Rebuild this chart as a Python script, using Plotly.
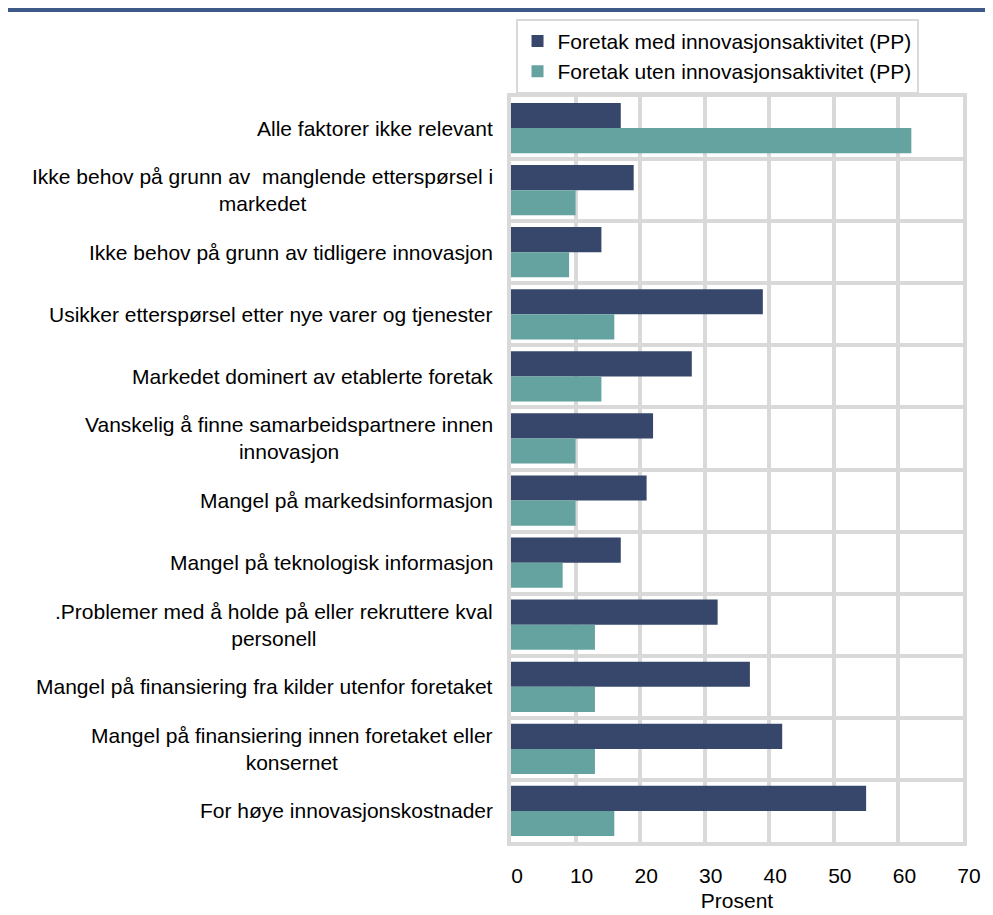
import plotly.graph_objects as go

# Data
categories = [
    "Alle faktorer ikke relevant",
    "Ikke behov på grunn av  manglende etterspørsel i<br>markedet",
    "Ikke behov på grunn av tidligere innovasjon",
    "Usikker etterspørsel etter nye varer og tjenester",
    "Markedet dominert av etablerte foretak",
    "Vanskelig å finne samarbeidspartnere innen<br>innovasjon",
    "Mangel på markedsinformasjon",
    "Mangel på teknologisk informasjon",
    ".Problemer med å holde på eller rekruttere kval<br>personell",
    "Mangel på finansiering fra kilder utenfor foretaket",
    "Mangel på finansiering innen foretaket eller<br>konsernet",
    "For høye innovasjonskostnader",
]
med_innovasjon = [17, 19, 14, 39, 28, 22, 21, 17, 32, 37, 42, 55]
uten_innovasjon = [62, 10, 9, 16, 14, 10, 10, 8, 13, 13, 13, 16]
x_ticks = [0, 10, 20, 30, 40, 50, 60, 70]

font_family = "Liberation Sans, Arial, sans-serif"
grid_color = "#d9d9d9"

fig = go.Figure()
fig.add_trace(go.Bar(
    y=categories, x=med_innovasjon, orientation="h",
    name="Foretak med innovasjonsaktivitet (PP)",
    marker=dict(color="#36476b", line=dict(width=0)),
))
fig.add_trace(go.Bar(
    y=categories, x=uten_innovasjon, orientation="h",
    name="Foretak uten innovasjonsaktivitet (PP)",
    marker=dict(color="#65a3a1", line=dict(width=0)),
))

# Category labels as annotations so multi-line labels are centred like in Excel
for i, label in enumerate(categories):
    fig.add_annotation(
        x=0, xref="paper", y=i, yref="y",
        text=label, showarrow=False,
        xanchor="right", yanchor="middle", align="center",
        xshift=-16,
        font=dict(family=font_family, size=21, color="#000000"),
    )

# Blue rule under the (cropped) heading
fig.add_shape(
    type="line", xref="paper", yref="paper",
    x0=-1.12, x1=1.07, y0=1.1168, y1=1.1168,
    line=dict(color="#3f5a88", width=4),
)

fig.update_layout(
    width=985, height=907,  # page adds an 8px body margin
    margin=dict(l=503, r=30, t=89, b=73, autoexpand=False),
    paper_bgcolor="white",
    plot_bgcolor="white",
    barmode="group",
    bargap=0.19,
    bargroupgap=0,
    font=dict(family=font_family, size=21, color="#000000"),
    showlegend=True,
    legend=dict(
        x=0.01, y=1.105, xanchor="left", yanchor="top",
        bordercolor=grid_color, borderwidth=2,
        bgcolor="white",
        font=dict(family=font_family, size=21),
        traceorder="normal",
        tracegroupgap=0,
    ),
)

fig.update_yaxes(
    type="category",
    autorange="reversed",
    showticklabels=False,
    tickson="boundaries",
    showgrid=True, gridcolor=grid_color, gridwidth=4,
    showline=True, linecolor=grid_color, linewidth=4, mirror=True,
    ticks="",
)
fig.update_xaxes(
    range=[0, 70],
    tickvals=x_ticks,
    showgrid=True, gridcolor=grid_color, gridwidth=4,
    showline=True, linecolor=grid_color, linewidth=4, mirror=True,
    zeroline=False,
    ticks="",
    ticklabelshift=6,
    ticklabelstandoff=12,
    tickfont=dict(family=font_family, size=21),
    title=dict(text="Prosent", font=dict(family=font_family, size=21), standoff=8),
)

fig.write_html("out.html")
